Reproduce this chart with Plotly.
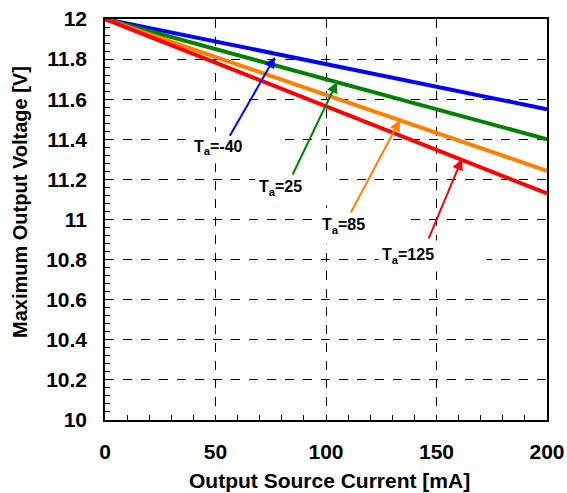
import plotly.graph_objects as go

current = [0, 50, 100, 150, 200]
v_m40 = [12.0, 11.888, 11.776, 11.663, 11.55]
v_25 = [12.0, 11.85, 11.70, 11.55, 11.40]
v_85 = [12.0, 11.811, 11.622, 11.433, 11.243]
v_125 = [12.0, 11.783, 11.566, 11.349, 11.13]

labels = ["T<sub>a</sub>=-40", "T<sub>a</sub>=25", "T<sub>a</sub>=85", "T<sub>a</sub>=125"]
colors = ["#0000FF", "#008000", "#FF7F00", "#FF0000"]
series = [v_m40, v_25, v_85, v_125]

# arrow tips / tails (data coordinates)
tips = [(76.9, 11.81), (105.0, 11.686), (133.5, 11.496), (161.5, 11.302)]
tails = [(56.1, 11.41), (84.6, 11.217), (110.9, 11.027), (146.2, 10.898)]
# label boxes: left x, center y, width px, height px
boxes = [(38.5, 11.359, 92, 31), (67.9, 11.157, 83, 34), (96.4, 10.968, 84, 34), (123.5, 10.818, 107, 30)]

FONT = "Liberation Sans, Arial, sans-serif"
L, R, T, B = 105, 20, 19, 73
W, H = 567, 493
PW, PH = W - L - R, H - T - B

fig = go.Figure()
for ys, c in zip(series, colors):
    fig.add_trace(go.Scatter(x=current, y=ys, mode="lines",
                             line=dict(color=c, width=4), showlegend=False))

annotations = []
for lab, c, (bx, by, bw, bh) in zip(labels, colors, boxes):
    annotations.append(dict(x=bx, y=by, xref="x", yref="y", text=lab, showarrow=False,
                            xanchor="left", yanchor="middle", align="left", valign="middle",
                            width=bw - 6, height=bh - 6, borderpad=3, bgcolor="white",
                            font=dict(family=FONT, size=16, color="black", weight="bold")))
for c, (tx, ty), (sx, sy) in zip(colors, tips, tails):
    annotations.append(dict(x=tx, y=ty, xref="x", yref="y", ax=sx, ay=sy,
                            axref="x", ayref="y", text="", showarrow=True,
                            arrowhead=2, arrowsize=1.1, arrowwidth=2, arrowcolor=c))
# y-axis title
annotations.append(dict(x=(20 - L) / PW, y=(H - B - 202) / PH, xref="paper", yref="paper",
                        text="Maximum Output Voltage [V]", showarrow=False, textangle=-90,
                        xanchor="center", yanchor="middle",
                        font=dict(family=FONT, size=20, color="black", weight="bold")))
# x-axis title
annotations.append(dict(x=(329 - L) / PW, y=-(480 - (H - B)) / PH, xref="paper", yref="paper",
                        text="Output Source Current [mA]", showarrow=False,
                        xanchor="center", yanchor="middle",
                        font=dict(family=FONT, size=21, color="black", weight="bold")))

fig.update_layout(
    width=W, height=H,
    margin=dict(l=L, r=R, t=T, b=B, autoexpand=False),
    plot_bgcolor="white", paper_bgcolor="white",
    annotations=annotations,
    font=dict(family=FONT, size=21, color="black", weight="bold"),
)
fig.update_xaxes(range=[0, 200], dtick=50, showline=True, linecolor="black", linewidth=1.5,
                 mirror=True, ticks="inside", ticklen=5, tickcolor="black",
                 showgrid=True, gridcolor="black", griddash="dash", gridwidth=1,
                 minor=dict(dtick=10, ticks="inside", ticklen=5, tickcolor="black", showgrid=False),
                 zeroline=False, ticklabelstandoff=12, automargin=False,
                 tickfont=dict(family=FONT, size=21, weight="bold"))
fig.update_yaxes(range=[10, 12], dtick=0.2, showline=True, linecolor="black", linewidth=1.5,
                 mirror=True, ticks="inside", ticklen=5, tickcolor="black",
                 showgrid=True, gridcolor="black", griddash="dash", gridwidth=1,
                 minor=dict(dtick=0.04, ticks="inside", ticklen=5, tickcolor="black", showgrid=False),
                 zeroline=False, ticklabelstandoff=12, automargin=False,
                 tickfont=dict(family=FONT, size=21, weight="bold"))

fig.write_html("out.html")
